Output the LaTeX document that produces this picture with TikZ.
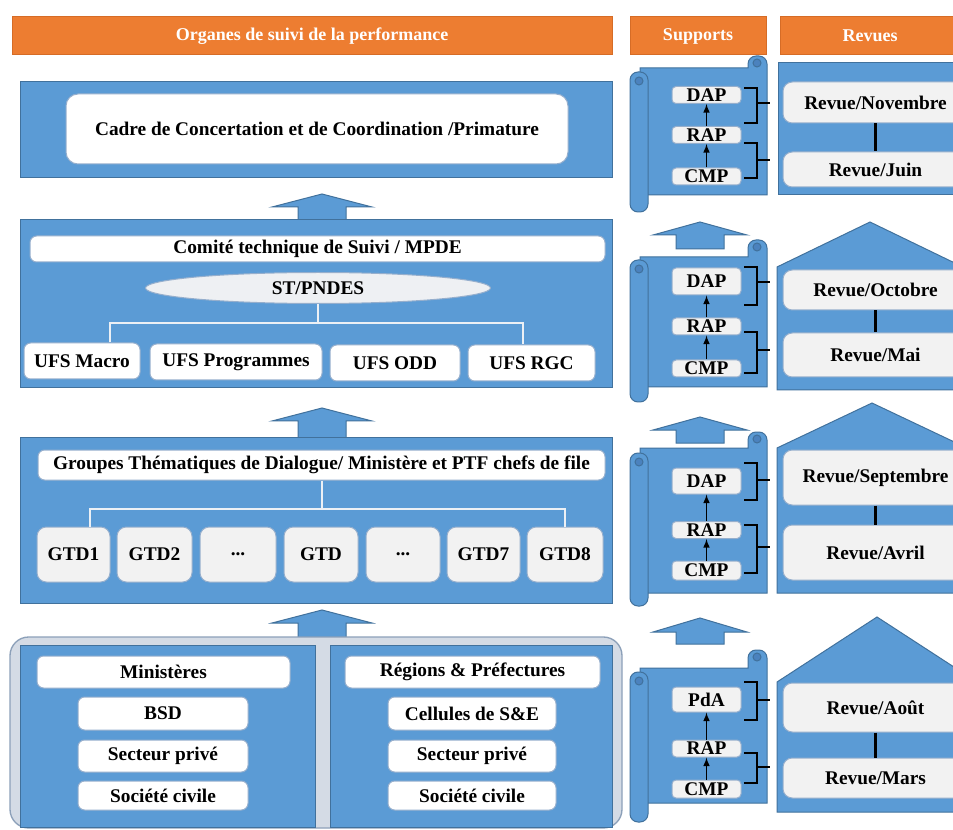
\documentclass[tikz,border=0pt]{standalone}
\usepackage{fontspec}
\setmainfont{Liberation Serif}
\usetikzlibrary{shapes.geometric}

\newcommand{\boxfont}{\fontsize{14.5}{17}\selectfont\bfseries}
\newcommand{\barfont}{\fontsize{13.5}{16}\selectfont\bfseries}

\tikzset{every picture/.style={line width=0.75pt}}
\tikzset{
  bluepanel/.style={draw={rgb, 255:red, 65; green, 113; blue, 156}, fill={rgb, 255:red, 91; green, 155; blue, 213}},
  orangebar/.style={draw={rgb, 255:red, 214; green, 108; blue, 38}, fill={rgb, 255:red, 237; green, 125; blue, 49}, text=white, font=\barfont, inner sep=0pt},
  whitebox/.style={draw={rgb, 255:red, 150; green, 175; blue, 205}, fill=white, rounded corners=5pt, inner sep=0pt, font=\boxfont},
  greybox/.style={whitebox, fill={rgb, 255:red, 242; green, 242; blue, 242}},
  boxsize/.style 2 args={minimum width=#1*0.75pt, minimum height=#2*0.75pt},
  linkline/.style={draw={rgb, 255:red, 236; green, 240; blue, 245}, line width=1.5},
  bracketline/.style={draw=black, line width=2},
  revueline/.style={draw=black, line width=2},
  supportarrow/.style={-latex, line width=1.2},
  rolldetail/.style={draw={rgb, 255:red, 65; green, 113; blue, 156}, fill={rgb, 255:red, 75; green, 130; blue, 190}},
}

\begin{document}
\begin{tikzpicture}[x=0.75pt,y=0.75pt,yscale=-1,xscale=1]
        \useasboundingbox (0,0) rectangle (953,830);
        \clip (0,0) rectangle (953,830);
        \fill [white] (0,0) rectangle (953,830);

        %Headers
        \node [orangebar, boxsize={600}{38}] (hOrganes) at (312,36) {Organes de suivi de la performance};
        \node [orangebar, boxsize={136}{38}] (hSupports) at (698,36) {Supports};
        \node [orangebar, boxsize={180}{38}] (hRevues) at (870,36) {Revues};

        %Shape: Rectangle (level 1)
        \draw [bluepanel] (20,82) rectangle (612,178);
        \node [whitebox, rounded corners=9pt, boxsize={502}{70}] (cadre) at (317,129) {Cadre de Concertation et de Coordination /Primature};

        %Up Arrow
        \draw [bluepanel] (298,221) -- (298,207) -- (272,207) -- (322,194) -- (372,207) -- (346,207) -- (346,221) -- cycle ;

        %Shape: Rectangle (level 2)
        \draw [bluepanel] (20,220) rectangle (612,388);
        \node [whitebox, boxsize={575}{26}] (comite) at (317.5,249) {Comité technique de Suivi / MPDE};
        \node [greybox, ellipse, fill={rgb, 255:red, 238; green, 240; blue, 243}, boxsize={345}{31}] (stpndes) at (318,288) {ST/PNDES};
        \node [whitebox, boxsize={116}{36}] (ufsMacro) at (82,361) {UFS Macro};
        \node [whitebox, boxsize={172}{36}] (ufsProg) at (236,362) {UFS Programmes};
        \node [whitebox, boxsize={130}{36}] (ufsOdd) at (395,363) {UFS ODD};
        \node [whitebox, boxsize={127}{36}] (ufsRgc) at (531.5,363) {UFS RGC};
        %Straight Lines
        \draw [linkline] (stpndes.south) -- ++(0,19) coordinate (ufsJoin) ;
        \draw [linkline] ([xshift=21pt]ufsMacro.north) |- (ufsJoin) -| ([xshift=-6.5pt]ufsRgc.north) ;

        %Up Arrow
        \draw [bluepanel] (298,438) -- (298,421) -- (272,421) -- (322,408) -- (372,421) -- (346,421) -- (346,438) -- cycle ;

        %Shape: Rectangle (level 3)
        \draw [bluepanel] (20,437) rectangle (612,603);
        \node [whitebox, boxsize={567}{30}] (gtdHead) at (321.5,465) {Groupes Thématiques de Dialogue/ Ministère et PTF chefs de file};
        \node [greybox, rounded corners=7pt, boxsize={73}{55}] (gtd1) at (73.5,554.5) {GTD1};
        \node [greybox, rounded corners=7pt, boxsize={75}{55}] (gtd2) at (154.5,554.5) {GTD2};
        \node [greybox, rounded corners=7pt, boxsize={76}{55}] (gtdDotsA) at (238,554.5) {...};
        \node [greybox, rounded corners=7pt, boxsize={74}{55}] (gtdMid) at (321,554.5) {GTD};
        \node [greybox, rounded corners=7pt, boxsize={74}{55}] (gtdDotsB) at (403,554.5) {...};
        \node [greybox, rounded corners=7pt, boxsize={73}{55}] (gtd7) at (483.5,554.5) {GTD7};
        \node [greybox, rounded corners=7pt, boxsize={76}{55}] (gtd8) at (565,554.5) {GTD8};
        %Straight Lines
        \draw [linkline] (gtdHead.south) -- ++(0,28) coordinate (gtdJoin) ;
        \draw [linkline] ([xshift=12pt]gtd1.north) |- (gtdJoin) -| (gtd8.north) ;

        %Up Arrow
        \draw [bluepanel] (298,638) -- (298,623) -- (272,623) -- (322,610) -- (372,623) -- (346,623) -- (346,638) -- cycle ;

        %Shape: Rounded Rectangle (level 4)
        \draw [draw={rgb, 255:red, 140; green, 160; blue, 185}, fill={rgb, 255:red, 212; green, 219; blue, 229}, rounded corners=14pt, line width=1] (10,637) rectangle (622,828);
        \draw [bluepanel] (20,645) rectangle (315,827);
        \draw [bluepanel] (330,645) rectangle (612,827);
        \node [whitebox, boxsize={253}{32}] (ministeres) at (163.5,672) {Ministères};
        \node [whitebox, boxsize={170}{33}] (bsd) at (163,713.5) {BSD};
        \node [whitebox, boxsize={170}{32}] (priveL) at (163,756) {Secteur privé};
        \node [whitebox, boxsize={170}{29}] (civileL) at (163,795.5) {Société civile};
        \node [whitebox, boxsize={255}{32}] (regions) at (472.5,672) {Régions \& Préfectures};
        \node [whitebox, boxsize={168}{33}] (cellules) at (472,713.5) {Cellules de S\&E};
        \node [whitebox, boxsize={168}{32}] (priveR) at (472,756) {Secteur privé};
        \node [whitebox, boxsize={168}{29}] (civileR) at (472,795.5) {Société civile};

        %Up Arrow
        \draw [bluepanel] (676,249) -- (676,235) -- (653,235) -- (700,222) -- (747,235) -- (724,235) -- (724,249) -- cycle ;
        %Up Arrow
        \draw [bluepanel] (676,443) -- (676,430) -- (653,430) -- (700,417) -- (747,430) -- (724,430) -- (724,443) -- cycle ;
        %Up Arrow
        \draw [bluepanel] (676,644) -- (676,632) -- (653,632) -- (700,618) -- (747,632) -- (724,632) -- (724,644) -- cycle ;

        %Scroll 1
        \draw [bluepanel] (640,195) -- (640,68) -- (748,68) [rounded corners=6pt] -- (748,56) -- (767,56) [sharp corners] -- (767,195) -- cycle ;
        \draw [rolldetail] (757,63) circle [radius=4] ;
        \draw [bluepanel, rounded corners=6pt] (630,72) rectangle (648,212) ;
        \draw [rolldetail] (639,81) circle [radius=4] ;
        \node [greybox, rounded corners=3pt, boxsize={69}{17}] (dap1) at (706.5,95) {DAP};
        \node [greybox, rounded corners=3pt, boxsize={69}{17}] (rap1) at (706.5,135) {RAP};
        \node [greybox, rounded corners=3pt, boxsize={69}{17}] (cmp1) at (706.5,176.5) {CMP};
        \draw [supportarrow] (cmp1) -- (rap1) ;
        \draw [supportarrow] (rap1) -- (dap1) ;
        \draw [bracketline] (744,88) -| (757,123) -- (744,123) ;
        \draw [bracketline] (757,103) -- (770,103) ;
        \draw [bracketline] (744,143) -| (757,178) -- (744,178) ;
        \draw [bracketline] (757,160) -- (770,160) ;

        %Scroll 2
        \draw [bluepanel] (640,387) -- (640,257) -- (748,257) [rounded corners=6pt] -- (748,240) -- (767,240) [sharp corners] -- (767,387) -- cycle ;
        \draw [rolldetail] (757,247) circle [radius=4] ;
        \draw [bluepanel, rounded corners=6pt] (630,260) rectangle (648,402) ;
        \draw [rolldetail] (639,269) circle [radius=4] ;
        \node [greybox, rounded corners=3pt, boxsize={69}{27}] (dap2) at (706.5,281.5) {DAP};
        \node [greybox, rounded corners=3pt, boxsize={69}{17}] (rap2) at (706.5,326.5) {RAP};
        \node [greybox, rounded corners=3pt, boxsize={69}{17}] (cmp2) at (706.5,368.5) {CMP};
        \draw [supportarrow] (cmp2) -- (rap2) ;
        \draw [supportarrow] (rap2) -- (dap2) ;
        \draw [bracketline] (744,267) -| (757,305) -- (744,305) ;
        \draw [bracketline] (757,282) -- (770,282) ;
        \draw [bracketline] (744,332) -| (757,373) -- (744,373) ;
        \draw [bracketline] (757,350) -- (770,350) ;

        %Scroll 3
        \draw [bluepanel] (640,593) -- (640,448) -- (748,448) [rounded corners=6pt] -- (748,432) -- (767,432) [sharp corners] -- (767,593) -- cycle ;
        \draw [rolldetail] (757,439) circle [radius=4] ;
        \draw [bluepanel, rounded corners=6pt] (630,453) rectangle (648,606) ;
        \draw [rolldetail] (639,462) circle [radius=4] ;
        \node [greybox, rounded corners=3pt, boxsize={69}{26}] (dap3) at (706.5,481) {DAP};
        \node [greybox, rounded corners=3pt, boxsize={69}{17}] (rap3) at (706.5,530) {RAP};
        \node [greybox, rounded corners=3pt, boxsize={69}{19}] (cmp3) at (706.5,570.5) {CMP};
        \draw [supportarrow] (cmp3) -- (rap3) ;
        \draw [supportarrow] (rap3) -- (dap3) ;
        \draw [bracketline] (744,463) -| (757,500) -- (744,500) ;
        \draw [bracketline] (757,480) -- (770,480) ;
        \draw [bracketline] (744,525) -| (757,573) -- (744,573) ;
        \draw [bracketline] (757,547) -- (770,547) ;

        %Scroll 4
        \draw [bluepanel] (640,803) -- (640,668) -- (748,668) [rounded corners=6pt] -- (748,650) -- (767,650) [sharp corners] -- (767,803) -- cycle ;
        \draw [rolldetail] (757,657) circle [radius=4] ;
        \draw [bluepanel, rounded corners=6pt] (630,672) rectangle (648,822) ;
        \draw [rolldetail] (639,681) circle [radius=4] ;
        \node [greybox, rounded corners=3pt, boxsize={69}{25}] (pda4) at (706.5,699.5) {PdA};
        \node [greybox, rounded corners=3pt, boxsize={69}{17}] (rap4) at (706.5,748.5) {RAP};
        \node [greybox, rounded corners=3pt, boxsize={69}{18}] (cmp4) at (706.5,789) {CMP};
        \draw [supportarrow] (cmp4) -- (rap4) ;
        \draw [supportarrow] (rap4) -- (pda4) ;
        \draw [bracketline] (744,682) -| (757,720) -- (744,720) ;
        \draw [bracketline] (757,700) -- (770,700) ;
        \draw [bracketline] (744,753) -| (757,783) -- (744,783) ;
        \draw [bracketline] (757,767) -- (770,767) ;

        %Revues 1
        \draw [bluepanel] (778,63) rectangle (970,195) ;
        \node [greybox, rounded corners=7pt, boxsize={185}{41}] (novembre) at (875.5,102.5) {Revue/Novembre};
        \node [greybox, rounded corners=7pt, boxsize={185}{35}] (juin) at (875.5,169.5) {Revue/Juin};
        \draw [revueline] (novembre) -- (juin) ;

        %Revues 2
        \draw [bluepanel] (777,390) -- (777,267) -- (870,222) -- (963,267) -- (963,390) -- cycle ;
        \node [greybox, rounded corners=7pt, boxsize={185}{40}] (octobre) at (875.5,290) {Revue/Octobre};
        \node [greybox, rounded corners=7pt, boxsize={185}{44}] (mai) at (875.5,355) {Revue/Mai};
        \draw [revueline] (octobre) -- (mai) ;

        %Revues 3
        \draw [bluepanel] (777,593) -- (777,448) -- (872,403) -- (967,448) -- (967,593) -- cycle ;
        \node [greybox, rounded corners=7pt, boxsize={185}{55}] (septembre) at (875.5,477.5) {Revue/Septembre};
        \node [greybox, rounded corners=7pt, boxsize={185}{55}] (avril) at (875.5,552.5) {Revue/Avril};
        \draw [revueline] (septembre) -- (avril) ;

        %Revues 4
        \draw [bluepanel] (777,812) -- (777,682) -- (877,617) -- (977,682) -- (977,812) -- cycle ;
        \node [greybox, rounded corners=7pt, boxsize={185}{49}] (aout) at (875.5,707.5) {Revue/Août};
        \node [greybox, rounded corners=7pt, boxsize={185}{40}] (mars) at (875.5,778) {Revue/Mars};
        \draw [revueline] (aout) -- (mars) ;
\end{tikzpicture}
\end{document}
